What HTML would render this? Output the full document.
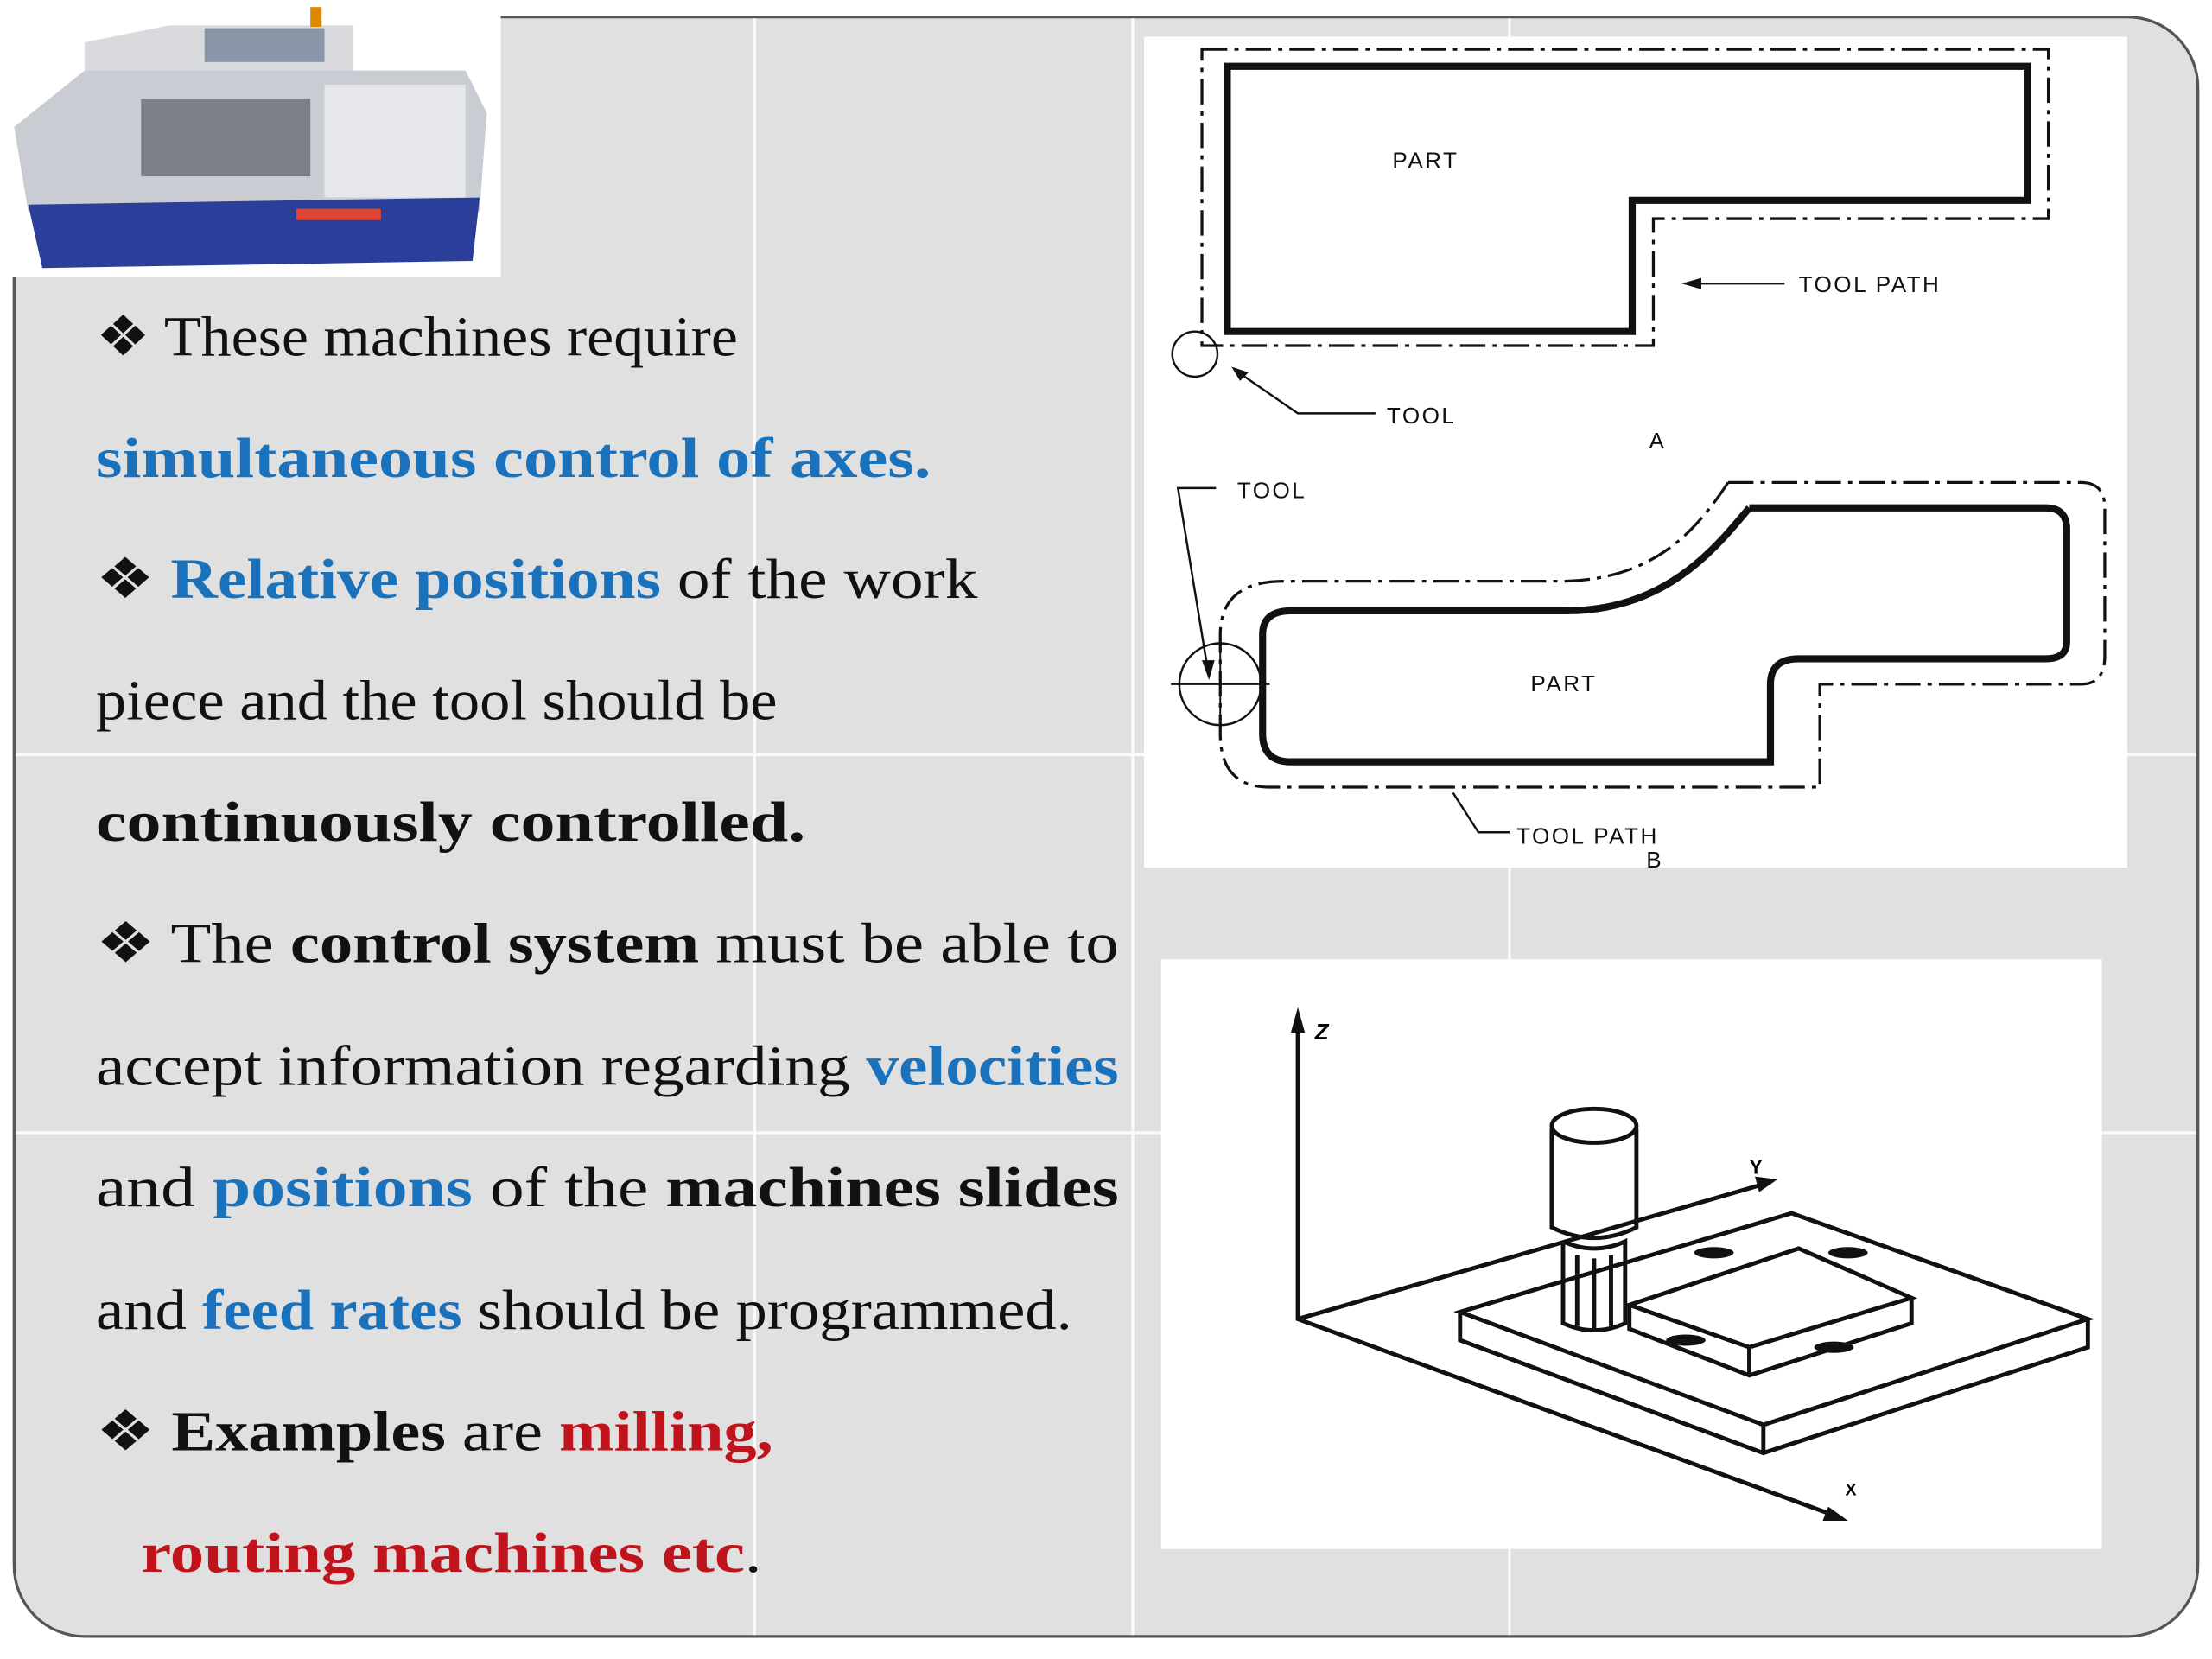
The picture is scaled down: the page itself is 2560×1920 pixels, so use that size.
<!DOCTYPE html>
<html><head><meta charset="utf-8"><style>
html,body{margin:0;padding:0;background:#fff;width:2560px;height:1920px;overflow:hidden}
svg{display:block}
.t{font-family:"Liberation Serif",serif;font-size:40px;fill:#111}
.b{font-weight:bold}
.bl{fill:#1a72bd;font-weight:bold}
.rd{fill:#c0141c;font-weight:bold}
.s{font-family:"Liberation Sans",sans-serif;font-size:16px;fill:#111;letter-spacing:1.5px}
</style></head><body>
<svg width="2560" height="1920" viewBox="0 0 1568 1176" preserveAspectRatio="none" xmlns="http://www.w3.org/2000/svg">
<rect width="1568" height="1176" fill="#fff"/>
<rect x="10" y="12" width="1548" height="1148" rx="50" fill="#e0e0e0" stroke="#555" stroke-width="2"/>
<g stroke="#fafafa" stroke-width="2">
<line x1="535" y1="13" x2="535" y2="1159"/><line x1="803" y1="13" x2="803" y2="1159"/><line x1="1070" y1="13" x2="1070" y2="1159"/>
<line x1="11" y1="535" x2="1557" y2="535"/><line x1="11" y1="803" x2="1557" y2="803"/>
</g>
<!-- lathe -->
<rect x="0" y="0" width="355" height="196" fill="#fff"/>
<polygon points="10,90 60,50 330,50 345,80 340,150 20,150" fill="#c9ccd2"/>
<polygon points="60,30 120,18 250,18 250,50 60,50" fill="#d8dadd"/>
<rect x="145" y="20" width="85" height="24" fill="#8a96a8"/>
<rect x="100" y="70" width="120" height="55" fill="#7d8088"/>
<rect x="230" y="60" width="100" height="80" fill="#e6e7ea"/>
<polygon points="20,145 340,140 335,185 30,190" fill="#2b3f9a"/>
<rect x="210" y="148" width="60" height="8" fill="#d43"/>
<rect x="220" y="5" width="8" height="14" fill="#d80"/>
<!-- text -->
<text class="t" x="68" y="252" textLength="455" lengthAdjust="spacingAndGlyphs">❖ These machines require</text>
<text class="t bl" x="68" y="338" textLength="592" lengthAdjust="spacingAndGlyphs">simultaneous control of axes.</text>
<text class="t" x="68" y="424" textLength="625" lengthAdjust="spacingAndGlyphs">❖ <tspan class="bl">Relative positions</tspan> of the work</text>
<text class="t" x="68" y="510" textLength="483" lengthAdjust="spacingAndGlyphs">piece and the tool should be</text>
<text class="t b" x="68" y="596" textLength="503" lengthAdjust="spacingAndGlyphs">continuously controlled.</text>
<text class="t" x="68" y="682" textLength="725" lengthAdjust="spacingAndGlyphs">❖ The <tspan class="b">control system</tspan> must be able to</text>
<text class="t" x="68" y="769" textLength="725" lengthAdjust="spacingAndGlyphs">accept information regarding <tspan class="bl">velocities</tspan></text>
<text class="t" x="68" y="855" textLength="725" lengthAdjust="spacingAndGlyphs">and <tspan class="bl">positions</tspan> of the <tspan class="b">machines slides</tspan></text>
<text class="t" x="68" y="942" textLength="692" lengthAdjust="spacingAndGlyphs">and <tspan class="bl">feed rates</tspan> should be programmed.</text>
<text class="t" x="68" y="1028" textLength="480" lengthAdjust="spacingAndGlyphs">❖ <tspan class="b">Examples</tspan> are <tspan class="rd">milling,</tspan></text>
<text class="t" x="100" y="1114" textLength="440" lengthAdjust="spacingAndGlyphs"><tspan class="rd">routing machines etc</tspan>.</text>
<!-- diagram A/B -->
<rect x="811" y="26" width="697" height="589" fill="#fff"/>
<g fill="none" stroke="#111">
<path d="M852,35 H1452 V155 H1172 V245 H852 Z" stroke-width="2" stroke-dasharray="18,5,3,5"/>
<path d="M870,47 H1437 V142 H1157 V235 H870 Z" stroke-width="5"/>
<circle cx="847" cy="251" r="16" stroke-width="1.5"/>
<path d="M875,262 L920,293 H975" stroke-width="1.5"/>
<path d="M1195,201 H1265" stroke-width="1.5"/>
<path d="M1225,342 H1475 Q1492,342 1492,360 V465 Q1492,485 1475,485 H1290 V558 H900 Q865,558 865,520 V450 Q865,412 910,412 H1110 C1170,410 1200,380 1225,342" stroke-width="2" stroke-dasharray="18,5,3,5"/>
<path d="M1240,360 H1450 Q1465,360 1465,375 V455 Q1465,467 1450,467 H1275 Q1255,467 1255,485 V540 H915 Q895,540 895,520 V450 Q895,433 915,433 H1110 C1180,433 1215,390 1240,360" stroke-width="5"/>
<circle cx="865" cy="485" r="29" stroke-width="1.5"/>
<path d="M830,485 H900 M865,450 V520" stroke-width="1.2"/>
<path d="M862,346 H835 L857,480" stroke-width="1.5"/>
<path d="M1030,562 L1048,590 H1070" stroke-width="1.5"/>
</g>
<polygon points="1192,201 1206,197 1206,205" fill="#111"/>
<polygon points="873,260 885,264 879,270" fill="#111"/>
<polygon points="857,482 852,468 861,468" fill="#111"/>
<text class="s" x="987" y="119">PART</text>
<text class="s" x="1275" y="207">TOOL PATH</text>
<text class="s" x="983" y="300">TOOL</text>
<text class="s" x="1169" y="318">A</text>
<text class="s" x="877" y="353">TOOL</text>
<text class="s" x="1085" y="490">PART</text>
<text class="s" x="1075" y="598">TOOL PATH</text>
<text class="s" x="1167" y="615">B</text>
<!-- diagram C -->
<rect x="823" y="680" width="667" height="418" fill="#fff"/>
<g fill="none" stroke="#111" stroke-width="3">
<path d="M920,720 V935 L1305,1076"/>
<path d="M920,935 L1255,838"/>
<path d="M1035,930 L1270,860 L1480,935 L1250,1010 Z"/>
<path d="M1035,930 V950 L1250,1030 L1480,955 V935 M1250,1010 V1030"/>
<path d="M1155,925 L1275,885 L1355,920 L1240,955 Z"/>
<path d="M1155,925 V942 L1240,975 L1355,938 V920 M1240,955 V975"/>
<path d="M1100,800 V870 Q1130,885 1160,870 V800"/>
<ellipse cx="1130" cy="798" rx="30" ry="12"/>
<path d="M1108,880 V938 Q1130,948 1152,938 V880 Q1130,890 1108,880"/>
<path d="M1118,890 V940 M1130,892 V942 M1142,890 V940"/>
</g>
<g fill="#111">
<polygon points="920,714 915,732 925,732"/>
<polygon points="1310,1078 1292,1078 1296,1068"/>
<polygon points="1260,836 1244,834 1247,845"/>
<ellipse cx="1215" cy="888" rx="14" ry="4"/><ellipse cx="1310" cy="888" rx="14" ry="4"/>
<ellipse cx="1195" cy="950" rx="14" ry="4"/><ellipse cx="1300" cy="955" rx="14" ry="4"/>
</g>
<text x="932" y="737" style="font-family:'Liberation Sans',sans-serif;font-size:16px;font-style:italic;font-weight:bold">Z</text>
<text x="1240" y="832" style="font-family:'Liberation Sans',sans-serif;font-size:14px;font-weight:bold">Y</text>
<text x="1308" y="1060" style="font-family:'Liberation Sans',sans-serif;font-size:12px;font-weight:bold">X</text>
</svg>
</body></html>
